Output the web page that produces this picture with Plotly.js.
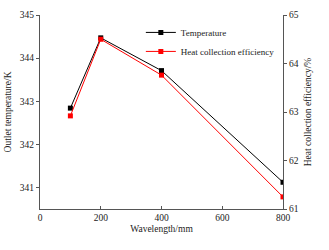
<!DOCTYPE html>
<html><head><meta charset="utf-8">
<script src="https://cdn.plot.ly/plotly-3.0.1.min.js"></script>
<style>html,body{margin:0;padding:0;background:#fff}#c{width:329px;height:250px}</style>
</head><body><div id="c"></div>
<script>
const wavelength = [100, 200, 400, 800];
const temperature = [342.84, 344.47, 343.71, 341.12];
const efficiency = [62.92, 64.50, 63.76, 61.25];
const xTicks = [0, 200, 400, 600, 800];
const yLeftTicks = [341, 342, 343, 344, 345];
const yRightTicks = [61, 62, 63, 64, 65];

const font = {family: 'Liberation Serif, Times New Roman, serif', size: 9.5, color: '#222'};
const legFont = {family: 'Liberation Serif, Times New Roman, serif', size: 9, color: '#222'};
const traces = [
  {x: wavelength, y: temperature, name: 'Temperature', mode: 'lines+markers',
   line: {color: '#000', width: 1}, marker: {symbol: 'square', size: 5, color: '#000'}},
  {x: wavelength, y: efficiency, name: 'Heat collection efficiency', mode: 'lines+markers', yaxis: 'y2',
   line: {color: '#ff0000', width: 1}, marker: {symbol: 'square', size: 5, color: '#ff0000'}}
];
const axisCommon = {showgrid: false, zeroline: false, showline: true, linecolor: '#555', linewidth: 1,
  ticklen: 3, tickcolor: '#555', tickfont: font};
const layout = {
  width: 329, height: 250, margin: {l: 40, r: 46, t: 15, b: 41},
  paper_bgcolor: '#fff', plot_bgcolor: '#fff', font: font, showlegend: true,
  legend: {x: 0.415, y: 0.985, xanchor: 'left', yanchor: 'top', bgcolor: 'rgba(0,0,0,0)',
    font: legFont, tracegroupgap: 0, itemwidth: 30},
  xaxis: Object.assign({}, axisCommon, {range: [0, 800], tickvals: xTicks, ticks: 'inside',
    title: {text: 'Wavelength/mm', font: font, standoff: 2}}),
  yaxis: Object.assign({}, axisCommon, {range: [340.5, 345], tickvals: yLeftTicks, ticks: 'outside',
    title: {text: 'Outlet temperature/K', font: font, standoff: 6}}),
  yaxis2: Object.assign({}, axisCommon, {range: [61, 65], tickvals: yRightTicks, ticks: 'outside',
    overlaying: 'y', side: 'right', anchor: 'x',
    title: {text: 'Heat collection efficiency/%', font: font, standoff: 6}})
};
Plotly.newPlot('c', traces, layout, {staticPlot: true});
</script></body></html>
